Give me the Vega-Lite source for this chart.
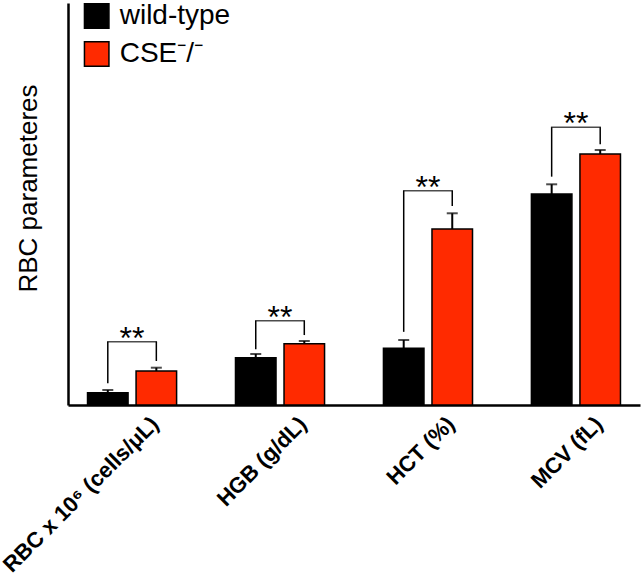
{
  "$schema": "https://vega.github.io/schema/vega-lite/v6.json",
  "autosize": {"type": "none"},
  "padding": {"left": 68, "top": 3, "right": 2, "bottom": 168},
  "width": 572,
  "height": 402,
  "background": "white",
  "config": {"view": {"stroke": null}, "font": "Liberation Sans"},
  "datasets": {
    "bars": [
      {"cat": "RBC x 10⁶ (cells/μL)", "group": "wild-type", "value": 3.06, "err": 3.73},
      {"cat": "RBC x 10⁶ (cells/μL)", "group": "CSE⁻/⁻", "value": 8.46, "err": 9.28},
      {"cat": "HGB (g/dL)", "group": "wild-type", "value": 11.77, "err": 12.69},
      {"cat": "HGB (g/dL)", "group": "CSE⁻/⁻", "value": 15.25, "err": 15.92},
      {"cat": "HCT (%)", "group": "wild-type", "value": 14.1, "err": 16.17},
      {"cat": "HCT (%)", "group": "CSE⁻/⁻", "value": 43.78, "err": 47.69},
      {"cat": "MCV (fL)", "group": "wild-type", "value": 52.49, "err": 54.9},
      {"cat": "MCV (fL)", "group": "CSE⁻/⁻", "value": 62.44, "err": 63.43}
    ],
    "legs": [
      {"cat": "RBC x 10⁶ (cells/μL)", "group": "wild-type", "bottom": 5.4, "top": 15.75},
      {"cat": "RBC x 10⁶ (cells/μL)", "group": "CSE⁻/⁻", "bottom": 10.95, "top": 15.75},
      {"cat": "HGB (g/dL)", "group": "wild-type", "bottom": 13.86, "top": 20.97},
      {"cat": "HGB (g/dL)", "group": "CSE⁻/⁻", "bottom": 17.4, "top": 20.97},
      {"cat": "HCT (%)", "group": "wild-type", "bottom": 18.2, "top": 53.3},
      {"cat": "HCT (%)", "group": "CSE⁻/⁻", "bottom": 49.5, "top": 53.3},
      {"cat": "MCV (fL)", "group": "wild-type", "bottom": 56.8, "top": 69.08},
      {"cat": "MCV (fL)", "group": "CSE⁻/⁻", "bottom": 64.85, "top": 69.08}
    ],
    "sig": [
      {"cat": "RBC x 10⁶ (cells/μL)", "top": 15.75, "label": "**"},
      {"cat": "HGB (g/dL)", "top": 20.97, "label": "**"},
      {"cat": "HCT (%)", "top": 53.3, "label": "**"},
      {"cat": "MCV (fL)", "top": 69.08, "label": "**"}
    ]
  },
  "encoding": {
    "x": {
      "field": "cat", "type": "nominal", "sort": null,
      "scale": {"domain": ["RBC x 10⁶ (cells/μL)", "HGB (g/dL)", "HCT (%)", "MCV (fL)"], "paddingInner": 0.398, "paddingOuter": 0.132},
      "axis": {
        "title": null, "ticks": false, "domainColor": "black", "domainWidth": 2.5,
        "labelAngle": -45, "labelAlign": "right", "labelBaseline": "middle",
        "labelFont": "Liberation Sans", "labelFontWeight": "bold", "labelFontSize": 22,
        "labelColor": "black", "labelPadding": 15, "labelOffset": 23, "labelLimit": 400
      }
    }
  },
  "layer": [
    {
      "data": {"name": "bars"},
      "mark": {"type": "bar", "stroke": "black", "strokeWidth": 1.5},
      "encoding": {
        "xOffset": {"field": "group", "type": "nominal", "scale": {"domain": ["wild-type", "CSE⁻/⁻"], "paddingInner": 0.165, "paddingOuter": 0}},
        "y": {
          "field": "value", "type": "quantitative",
          "scale": {"domain": [0, 100], "nice": false},
          "axis": {
            "title": "RBC parameteres", "ticks": false, "labels": false, "grid": false,
            "domainColor": "black", "domainWidth": 2.5,
            "titleFont": "Liberation Sans", "titleFontSize": 26, "titleFontWeight": "normal", "titleColor": "black",
            "titleAngle": -90, "titleBaseline": "alphabetic", "titleAlign": "center", "titleX": -31.5, "titleY": 185
          }
        },
        "color": {
          "field": "group", "type": "nominal",
          "scale": {"domain": ["wild-type", "CSE⁻/⁻"], "range": ["black", "#ff2a00"]},
          "legend": {
            "title": null, "orient": "none", "legendX": 14.7, "legendY": -1, "padding": 0,
            "symbolType": "square", "symbolSize": 600, "symbolStrokeColor": "black", "symbolStrokeWidth": 1.5,
            "symbolOpacity": 1,
            "labelFont": "Liberation Sans", "labelFontSize": 28, "labelColor": "black", "labelOffset": 9,
            "rowPadding": 6, "labelLimit": 300
          }
        }
      }
    },
    {
      "data": {"name": "bars"},
      "mark": {"type": "rule", "color": "black", "strokeWidth": 2},
      "encoding": {
        "xOffset": {"field": "group", "type": "nominal", "scale": {"domain": ["wild-type", "CSE⁻/⁻"], "paddingInner": 0.165, "paddingOuter": 0}},
        "y": {"field": "value", "type": "quantitative"},
        "y2": {"field": "err"}
      }
    },
    {
      "data": {"name": "bars"},
      "mark": {"type": "tick", "color": "black", "thickness": 2, "size": 11},
      "encoding": {
        "xOffset": {"field": "group", "type": "nominal", "scale": {"domain": ["wild-type", "CSE⁻/⁻"], "paddingInner": 0.165, "paddingOuter": 0}},
        "y": {"field": "err", "type": "quantitative"}
      }
    },
    {
      "data": {"name": "legs"},
      "mark": {"type": "rule", "color": "black", "strokeWidth": 1.5},
      "encoding": {
        "xOffset": {"field": "group", "type": "nominal", "scale": {"domain": ["wild-type", "CSE⁻/⁻"], "paddingInner": 0.165, "paddingOuter": 0}},
        "y": {"field": "bottom", "type": "quantitative"},
        "y2": {"field": "top"}
      }
    },
    {
      "data": {"name": "sig"},
      "mark": {"type": "tick", "color": "black", "thickness": 1.5, "size": 50},
      "encoding": {
        "y": {"field": "top", "type": "quantitative"}
      }
    },
    {
      "data": {"name": "sig"},
      "mark": {"type": "text", "font": "Liberation Sans", "fontSize": 32, "color": "black", "baseline": "alphabetic", "dy": 7},
      "encoding": {
        "y": {"field": "top", "type": "quantitative"},
        "text": {"field": "label"}
      }
    }
  ]
}
